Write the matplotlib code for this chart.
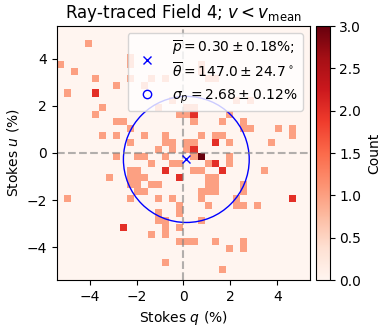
import numpy as np
import matplotlib
matplotlib.use("Agg")
import matplotlib.pyplot as plt

q_vals = [-4.05,
          -2.25,
          -5.25, -2.25, 0.75,
          -4.65, 0.75,
          -3.75, -2.25, -1.35, -0.75, 1.05, 1.35,
          -2.85, -1.65,
          -4.95, -3.75,
          -0.45, 2.25, 2.85,
          -3.45, -1.05, 0.15, 0.45,
          -3.75, -0.15, 0.15, 0.45, 1.95,
          -2.85, -2.55, 0.45, 1.65, 2.55,
          -2.25, 2.55, 2.85, 4.05, 4.65,
          -3.45, -2.85, -1.65, -0.75, 0.75, 1.35, 1.65, 4.65,
          -2.25, -0.75, -0.45, 0.15, 0.45, 1.35, 1.95, 3.75,
          -1.05, -0.45, 0.15, 0.45,
          -2.85, -1.95, -1.65, -0.75, 0.45, 0.75, 1.95,
          -1.35, -0.45, -0.15, 1.05, 1.35, 1.95,
          -2.25, -1.95, -0.75, 0.45, 0.75, 1.65, 3.45,
          -3.15, -2.25, -1.95, -1.65, -0.15, 1.05, 1.35,
          -2.25, -1.95, -1.35, -1.05, 1.05, 1.35, 2.55,
          -1.95, -1.65, 0.75, 1.05, 1.35, 2.55,
          -4.95, -2.25, -1.05, -0.45, 0.75, 2.25, 4.65,
          -0.15, 1.05, 2.25, 2.55, 3.15,
          -1.05, -0.15,
          -1.05, -0.75, 0.75,
          -2.55, -0.75, -0.15,
          -1.35, -0.75,
          -0.15, 0.15, 0.45, 1.35, 2.55,
          1.95, 2.55,
          -0.75,
          1.65]
u_vals = [4.65,
          4.05,
          3.75, 3.75, 3.75,
          3.45, 3.45,
          3.15, 3.15, 3.15, 3.15, 3.15, 3.15,
          2.85, 2.85,
          2.55, 2.55,
          2.25, 2.25, 2.25,
          1.95, 1.95, 1.95, 1.95,
          1.65, 1.65, 1.65, 1.65, 1.65,
          1.35, 1.35, 1.35, 1.35, 1.35,
          1.05, 1.05, 1.05, 1.05, 1.05,
          0.75, 0.75, 0.75, 0.75, 0.75, 0.75, 0.75, 0.75,
          0.45, 0.45, 0.45, 0.45, 0.45, 0.45, 0.45, 0.45,
          0.15, 0.15, 0.15, 0.15,
          -0.15, -0.15, -0.15, -0.15, -0.15, -0.15, -0.15,
          -0.45, -0.45, -0.45, -0.45, -0.45, -0.45,
          -0.75, -0.75, -0.75, -0.75, -0.75, -0.75, -0.75,
          -1.05, -1.05, -1.05, -1.05, -1.05, -1.05, -1.05,
          -1.35, -1.35, -1.35, -1.35, -1.35, -1.35, -1.35,
          -1.65, -1.65, -1.65, -1.65, -1.65, -1.65,
          -1.95, -1.95, -1.95, -1.95, -1.95, -1.95, -1.95,
          -2.25, -2.25, -2.25, -2.25, -2.25,
          -2.55, -2.55,
          -2.85, -2.85, -2.85,
          -3.15, -3.15, -3.15,
          -3.45, -3.45,
          -3.75, -3.75, -3.75, -3.75, -3.75,
          -4.05, -4.05,
          -4.65,
          -4.95]
counts = [1,
          1,
          1, 1, 1,
          1, 1,
          1, 1, 1, 1, 1, 1,
          1, 1,
          1, 2,
          1, 1, 1,
          1, 1, 1, 1,
          1, 1, 1, 2, 1,
          1, 1, 1, 1, 1,
          1, 1, 1, 1, 1,
          1, 1, 1, 1, 1, 1, 1, 1,
          1, 1, 1, 1, 1, 2, 1, 1,
          1, 1, 1, 2,
          1, 1, 1, 1, 1, 3, 1,
          1, 1, 1, 1, 2, 1,
          1, 1, 2, 1, 1, 2, 1,
          1, 1, 1, 1, 2, 1, 1,
          1, 1, 1, 1, 1, 1, 1,
          1, 1, 1, 1, 1, 1,
          1, 1, 1, 1, 1, 1, 2,
          1, 1, 1, 1, 1,
          1, 1,
          1, 1, 1,
          2, 1, 1,
          1, 1,
          1, 1, 1, 1, 1,
          1, 1,
          1,
          1]

mean_q = 0.122
mean_u = -0.274
sigma_p = 2.68
limit = 5.4
n_bins = 36

W, H = 389, 330
fig = plt.figure(figsize=(W / 100, H / 100), dpi=100)
ax = fig.add_axes([56.7 / W, 1 - 280 / H, 253.5 / W, 254 / H])

_, _, _, mesh = ax.hist2d(q_vals, u_vals, bins=n_bins, weights=counts,
                          range=[[-limit, limit], [-limit, limit]],
                          cmap="Reds", vmin=0, vmax=3)
ax.axhline(0, color="gray", ls="--", lw=1.5, alpha=0.6)
ax.axvline(0, color="gray", ls="--", lw=1.5, alpha=0.6)

ax.plot(mean_q, mean_u, "x", color="blue",
        label="$\\overline{p}=0.30\\pm0.18\\%$;\n$\\overline{\\theta}=147.0\\pm24.7^\\circ$")
circle = plt.Circle((mean_q, mean_u), sigma_p, fill=False, color="blue", lw=1)
ax.add_patch(circle)
ax.plot([], [], "o", mfc="none", mec="blue",
        label="$\\sigma_p=2.68\\pm0.12\\%$")

ax.set_xlim(-limit, limit)
ax.set_ylim(-limit, limit)
ax.set_xticks([-4, -2, 0, 2, 4])
ax.set_yticks([-4, -2, 0, 2, 4])
ax.set_xlabel("Stokes $q$ (%)")
ax.set_ylabel("Stokes $u$ (%)")
ax.set_title("Ray-traced Field 4; $v < v_{\\rm mean}$", fontsize=12)
ax.legend(loc="upper right", fontsize=10, labelspacing=0.5)

cax = fig.add_axes([316 / W, 1 - 280 / H, 13.5 / W, 254 / H])
cb = fig.colorbar(mesh, cax=cax)
cb.set_ticks(np.arange(0, 3.01, 0.5))
cb.set_label("Count")

fig.savefig("out.png", dpi=100)
